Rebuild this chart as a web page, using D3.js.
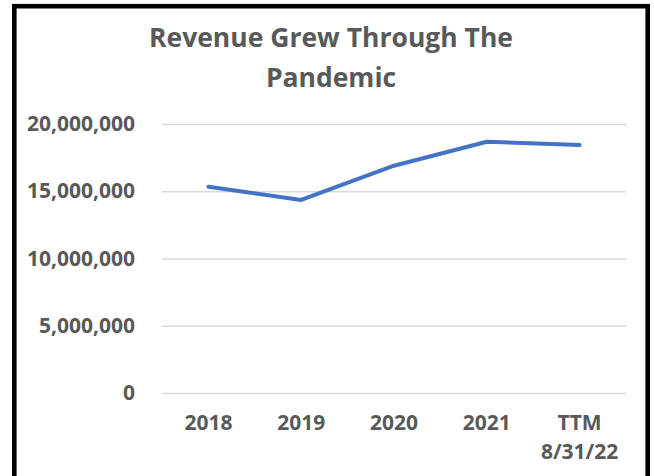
<!DOCTYPE html>
<html>
<head>
<meta charset="utf-8">
<script src="https://cdn.jsdelivr.net/npm/d3@7"></script>
<style>
  body { margin: 0; background: #fff; }
  svg { display: block; }
</style>
</head>
<body>
<script>
const categories = ["2018", "2019", "2020", "2021", "TTM 8/31/22"];
const revenue = [15340000, 14350000, 16900000, 18680000, 18440000];
const yTicks = [0, 5000000, 10000000, 15000000, 20000000];
const titleLines = ["Revenue Grew Through The", "Pandemic"];

const w = 654, h = 476;
const plotLeft = 162, plotRight = 626, plotTop = 124, plotBottom = 393;
const textColor = "#595959";
const font = "'Open Sans', sans-serif";

const svg = d3.select("body")
              .append("svg")
              .attr("width", w)
              .attr("height", h)

// frame
svg.append("rect")
   .attr("x", 14.3)
   .attr("y", 6.2)
   .attr("width", 647.7 - 14.3)
   .attr("height", 500)
   .attr("fill", "none")
   .attr("stroke", "#000")
   .attr("stroke-width", 4.6)

svg.append("text")
   .attr("x", 331)
   .attr("y", 47)
   .attr("text-anchor", "middle")
   .attr("font-family", font)
   .attr("font-weight", "bold")
   .attr("font-size", 26.5)
   .attr("fill", textColor)
   .selectAll("tspan")
   .data(titleLines)
   .enter()
   .append("tspan")
   .attr("x", 331)
   .attr("dy", (d, i) => i === 0 ? 0 : 40)
   .text(d => d)

const x = d3.scaleBand()
            .domain(categories)
            .range([plotLeft, plotRight])

const y = d3.scaleLinear()
            .domain([0, 20000000])
            .range([plotBottom, plotTop])

// gridlines
const grid = svg.append("g")
   .attr("transform", "translate(" + plotLeft + ", 0)")
   .call(d3.axisLeft(y).tickValues(yTicks).tickSize(-(plotRight - plotLeft)).tickFormat(""))
grid.select(".domain").remove()
grid.selectAll(".tick line")
    .attr("stroke", "#d9d9d9")
    .attr("stroke-width", 1.6)

// y labels
const yAxis = svg.append("g")
   .attr("transform", "translate(135, 0)")
   .call(d3.axisLeft(y).tickValues(yTicks).tickSize(0).tickPadding(0).tickFormat(d3.format(",")))
yAxis.select(".domain").remove()
yAxis.selectAll("text")
     .attr("font-family", font)
     .attr("font-weight", "bold")
     .attr("font-size", 21)
     .attr("fill", textColor)

// x labels
const xAxis = svg.append("g")
   .attr("transform", "translate(0, " + plotBottom + ")")
   .call(d3.axisBottom(x).tickSize(0))
xAxis.select(".domain").remove()
xAxis.selectAll("text")
     .attr("font-family", font)
     .attr("font-weight", "bold")
     .attr("font-size", 21)
     .attr("fill", textColor)
     .attr("y", 0)
     .attr("dy", 0)
     .text(null)
     .selectAll("tspan")
     .data(d => d.split(" "))
     .enter()
     .append("tspan")
     .attr("x", 0)
     .attr("y", (d, i) => 37 + i * 29)
     .text(d => d)

const line = d3.line()
               .x((d, i) => x(categories[i]) + x.bandwidth() / 2)
               .y(d => y(d))

svg.append("path")
   .datum(revenue)
   .attr("d", line)
   .attr("fill", "none")
   .attr("stroke", "#4472c4")
   .attr("stroke-width", 4)
   .attr("stroke-linecap", "round")
   .attr("stroke-linejoin", "round")
</script>
</body>
</html>
